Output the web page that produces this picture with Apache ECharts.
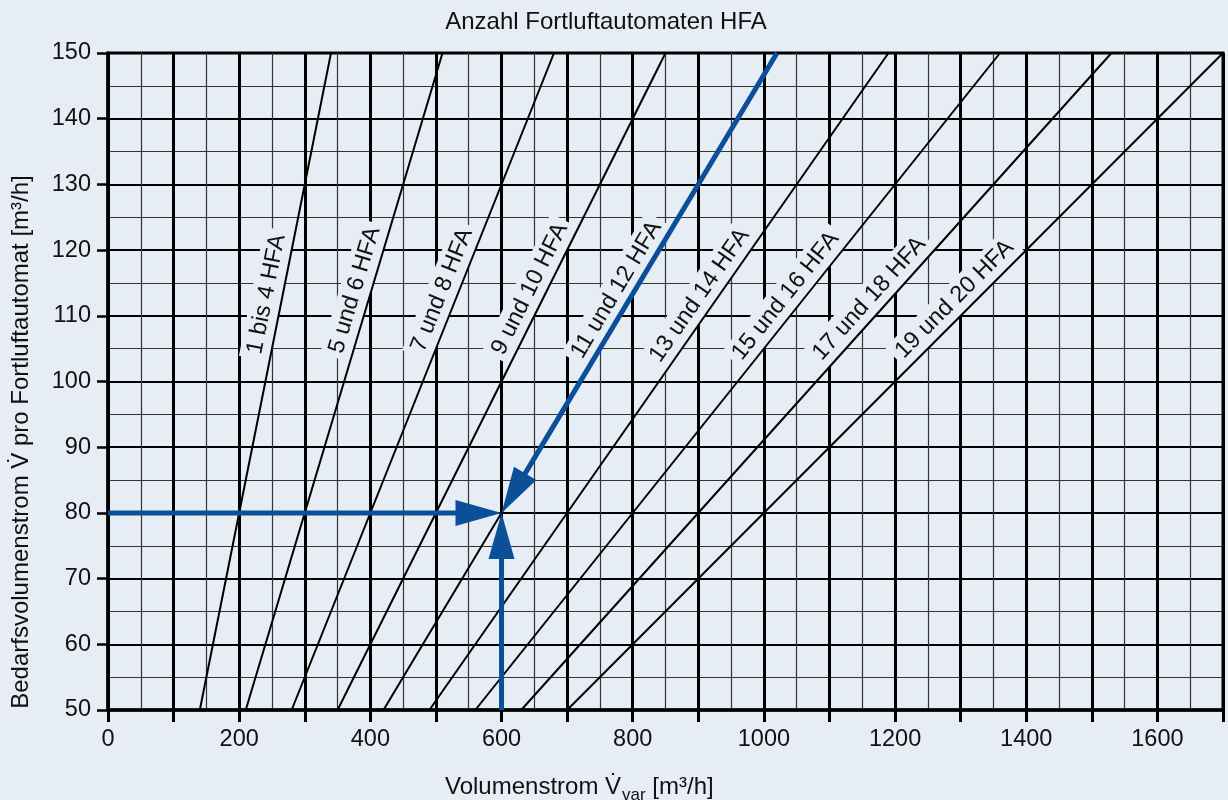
<!DOCTYPE html>
<html>
<head>
<meta charset="utf-8">
<script src="https://cdn.jsdelivr.net/npm/echarts@6/dist/echarts.min.js"></script>
<style>
  html, body { margin: 0; padding: 0; background: #e6edf5; }
  #chart { width: 1228px; height: 800px; }
</style>
</head>
<body>
<div id="chart"></div>
<script>
// ---------- data ----------
const lineNames = ['1 bis 4 HFA', '5 und 6 HFA', '7 und 8 HFA', '9 und 10 HFA', '11 und 12 HFA',
                   '13 und 14 HFA', '15 und 16 HFA', '17 und 18 HFA', '19 und 20 HFA'];
const lineYRange = [50, 150];                                       // V per HFA at both ends
const vAtBottom = [140, 210, 280, 350, 420, 490, 560, 630, 700];     // V_var at V = 50
const vAtTop    = [340, 510, 680, 850, 1020, 1190, 1360, 1530, 1700]; // V_var at V = 150
const arrowFrom = [[0, 80], [600, 50], [1020, 150]];
const arrowTo   = [[600, 80], [600, 80], [600, 80]];
const xTickLabels = [0, 200, 400, 600, 800, 1000, 1200, 1400, 1600];
const yTickLabels = [50, 60, 70, 80, 90, 100, 110, 120, 130, 140, 150];

// ---------- layout / style ----------
const BG = '#e6edf5';
const BLUE = '#0a4f98';
const INK = '#111';
const FONT = '"Liberation Sans", Arial, Helvetica, sans-serif';
const FS = 23.5;     // tick + line labels
const FN = 24;       // titles / axis names
const labelPosY = [112.8, 113.2, 113.0, 113.0, 112.7, 111.7, 111.5, 111.0, 110.8];

const chart = echarts.init(document.getElementById('chart'), null, { renderer: 'canvas' });

const lineSeries = lineNames.map((n, i) => ({
  type: 'line', name: n, silent: true, z: 10,
  symbol: 'none', animation: false,
  lineStyle: { color: '#000', width: 2 },
  data: [[vAtBottom[i], lineYRange[0]], [vAtTop[i], lineYRange[1]]]
}));

function labelData(rotations) {
  return lineNames.map((n, i) => {
    const t = (labelPosY[i] - lineYRange[0]) / (lineYRange[1] - lineYRange[0]);
    const x = vAtBottom[i] + (vAtTop[i] - vAtBottom[i]) * t;
    return { name: n, value: [x, labelPosY[i]], label: { rotate: rotations ? rotations[i] : 0 } };
  });
}

const arrowData = arrowFrom.map((f, i) => [f[0], f[1], arrowTo[i][0], arrowTo[i][1]]);

function txt(text, x, y, size, align, valign, extra) {
  return Object.assign({
    type: 'text', x: x, y: y,
    style: { text: text, font: size + 'px ' + FONT, fill: INK,
      align: align, verticalAlign: valign, textAlign: align, textVerticalAlign: valign }
  }, extra || {});
}

const option = {
  backgroundColor: BG,
  animation: false,
  textStyle: { fontFamily: FONT },
  grid: { left: 108, right: 5, top: 53, bottom: 90, show: true, borderColor: '#000', borderWidth: 3, backgroundColor: 'transparent' },
  xAxis: {
    type: 'value', min: 0, max: 1700, interval: 100,
    axisLine: { show: true, onZero: false, lineStyle: { color: '#000', width: 3.5 } },
    axisTick: { show: true, length: 12, lineStyle: { color: '#000', width: 3 } },
    axisLabel: { fontSize: FS, color: INK, margin: 18, fontFamily: FONT,
      formatter: v => xTickLabels.includes(v) ? String(v) : '' },
    splitLine: { show: true, lineStyle: { color: '#000', width: 3 } },
    minorTick: { show: false, splitNumber: 2 },
    minorSplitLine: { show: true, lineStyle: { color: '#333', width: 1.2 } }
  },
  yAxis: {
    type: 'value', min: 50, max: 150, interval: 10,
    axisLine: { show: true, onZero: false, lineStyle: { color: '#000', width: 3.5 } },
    axisTick: { show: true, length: 11, lineStyle: { color: '#000', width: 2.5 } },
    axisLabel: { fontSize: FS, color: INK, margin: 17, fontFamily: FONT,
      formatter: v => yTickLabels.includes(v) ? String(v) : '' },
    splitLine: { show: true, lineStyle: { color: '#000', width: 2 } },
    minorTick: { show: false, splitNumber: 2 },
    minorSplitLine: { show: true, lineStyle: { color: '#333', width: 1.1 } }
  },
  series: [
    ...lineSeries,
    {
      type: 'scatter', id: 'labels', z: 3, silent: true,
      symbol: 'circle', symbolSize: 1, itemStyle: { color: 'rgba(0,0,0,0)' },
      label: {
        show: true, position: 'inside', formatter: '{b}',
        align: 'center', verticalAlign: 'bottom',
        fontSize: FS, color: INK, fontFamily: FONT,
        textBorderWidth: 0, textBorderColor: 'transparent', opacity: 1,
        backgroundColor: BG, padding: [3, 5, 4, 5]
      },
      emphasis: { disabled: true },
      data: labelData(null)
    },
    {
      type: 'custom', z: 20, silent: true,
      encode: { x: [0, 2], y: [1, 3] },
      data: arrowData,
      renderItem: function (params, api) {
        const p0 = api.coord([api.value(0), api.value(1)]);
        const p1 = api.coord([api.value(2), api.value(3)]);
        const dx = p1[0] - p0[0], dy = p1[1] - p0[1];
        const len = Math.sqrt(dx * dx + dy * dy);
        const ux = dx / len, uy = dy / len;
        const headLen = 46, headHalf = 13;
        const bx = p1[0] - ux * headLen, by = p1[1] - uy * headLen;
        const nx = -uy, ny = ux;
        return {
          type: 'group',
          children: [
            { type: 'line', shape: { x1: p0[0], y1: p0[1], x2: bx + ux * 4, y2: by + uy * 4 },
              style: { stroke: BLUE, lineWidth: 5 } },
            { type: 'polygon', shape: { points: [[p1[0], p1[1]], [bx + nx * headHalf, by + ny * headHalf], [bx - nx * headHalf, by - ny * headHalf]] },
              style: { fill: BLUE } }
          ]
        };
      }
    }
  ],
  graphic: [
    txt('Anzahl Fortluftautomaten HFA', 606, 22, FN, 'center', 'middle', { id: 'title' }),
    txt('Bedarfsvolumenstrom V\u0307 pro Fortluftautomat [m³/h]', 21, 442, FN, 'center', 'middle', { id: 'yname', rotation: Math.PI / 2 })
  ]
};

chart.setOption(option);

// rotate labels along their lines (angle from actual pixel geometry)
const rotations = lineNames.map((n, i) => {
  const a = chart.convertToPixel({ gridIndex: 0 }, [vAtBottom[i], lineYRange[0]]);
  const b = chart.convertToPixel({ gridIndex: 0 }, [vAtTop[i], lineYRange[1]]);
  return Math.atan2(a[1] - b[1], b[0] - a[0]) * 180 / Math.PI;
});

// x axis name with subscript, placed by measured widths
const ctx = document.createElement('canvas').getContext('2d');
ctx.font = FN + 'px ' + FONT;
const part1 = 'Volumenstrom V\u0307';
const w1 = ctx.measureText(part1).width;
ctx.font = '17px ' + FONT;
const w2 = ctx.measureText('var').width;
const xStart = 445, midY = 787;

chart.setOption({
  series: [{ id: 'labels', data: labelData(rotations) }],
  graphic: [
    txt(part1, xStart, midY, FN, 'left', 'middle', { id: 'xn1' }),
    txt('var', xStart + w1 + 1, midY + 8, 17, 'left', 'middle', { id: 'xn2' }),
    txt(' [m³/h]', xStart + w1 + 1 + w2, midY, FN, 'left', 'middle', { id: 'xn3' })
  ]
});
</script>
</body>
</html>
